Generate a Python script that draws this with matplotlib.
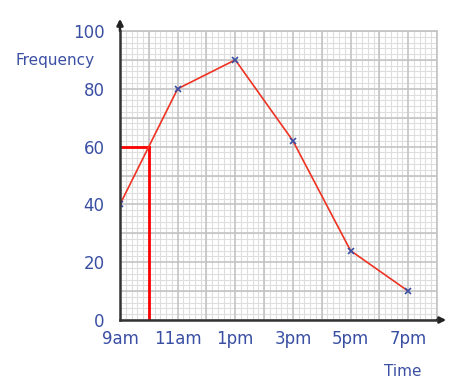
import matplotlib
matplotlib.use("Agg")
import matplotlib.pyplot as plt
from matplotlib.ticker import MultipleLocator

hours = [9, 11, 13, 15, 17, 19]
time_labels = ["9am", "11am", "1pm", "3pm", "5pm", "7pm"]
frequency = [40, 80, 90, 62, 24, 10]
y_ticks = [0, 20, 40, 60, 80, 100]
read_value = 60
read_hour = 10

blue = "#3a4fa3"
fig = plt.figure(figsize=(4.73, 3.89), dpi=100)
W, H = 473, 389
x0, x1, y0, y1 = 120, 437, 320, 31
ax = fig.add_axes([x0 / W, (H - y0) / H, (x1 - x0) / W, (y0 - y1) / H])
ax.set_xlim(9, 20)
ax.set_ylim(0, 100)

ax.set_xticks(hours)
ax.set_xticklabels(time_labels)
ax.set_yticks(y_ticks)
ax.xaxis.set_minor_locator(MultipleLocator(0.2))
ax.yaxis.set_minor_locator(MultipleLocator(2))
# grid lines at every hour / every 10 units
for h in range(9, 21):
    ax.axvline(h, color="#c4c4c4", lw=1.2, zorder=1)
for v in range(0, 101, 10):
    ax.axhline(v, color="#c4c4c4", lw=1.2, zorder=1)
ax.grid(which="minor", color="#dedede", lw=0.8, zorder=0)
ax.set_axisbelow(True)
ax.tick_params(which="both", length=0)
ax.tick_params(axis="both", labelsize=12, labelcolor=blue)
ax.tick_params(axis="x", pad=7)
ax.tick_params(axis="y", pad=11)

for s in ["top", "right"]:
    ax.spines[s].set_color("#c4c4c4")
    ax.spines[s].set_linewidth(1.2)
for s in ["left", "bottom"]:
    ax.spines[s].set_color("#333333")
    ax.spines[s].set_linewidth(1.8)
    ax.spines[s].set_zorder(6)

# reading lines
ax.plot([9, read_hour], [read_value, read_value], color="red", lw=2, zorder=3)
ax.plot([read_hour, read_hour], [0, read_value], color="red", lw=2, zorder=3)

ax.plot(hours, frequency, color="#ee3322", lw=1.2, zorder=4)
ax.plot(hours, frequency, ls="none", marker="x", ms=4.5, mew=1.2, color=blue, zorder=5)

# axis arrows
ax.annotate("", xy=(1 + 12 / 317, 0), xytext=(0.99, 0), xycoords="axes fraction",
            arrowprops=dict(arrowstyle="-|>", color="#222222", lw=1.8, mutation_scale=9))
ax.annotate("", xy=(0, 1 + 15 / 289), xytext=(0, 0.99), xycoords="axes fraction",
            arrowprops=dict(arrowstyle="-|>", color="#222222", lw=1.8, mutation_scale=9))

fig.text(55 / W, 1 - 60 / H, "Frequency", color=blue, fontsize=11, ha="center", va="center")
fig.text(403 / W, 1 - 372 / H, "Time", color=blue, fontsize=11, ha="center", va="center")

fig.savefig("out.png", dpi=100)
